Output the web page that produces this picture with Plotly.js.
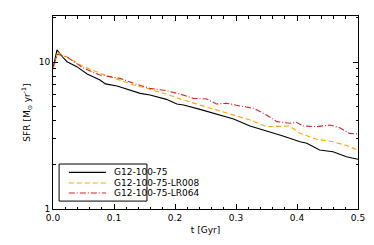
<!DOCTYPE html>
<html>
<head>
<meta charset="utf-8">
<script src="https://cdn.plot.ly/plotly-3.0.1.min.js"></script>
<style>html,body{margin:0;padding:0;background:#fff;}</style>
</head>
<body>
<div id="sfr" style="width:374px;height:245px;"></div>
<script>
// SFR curves
var tBase = [0.0, 0.0065, 0.015, 0.023, 0.039, 0.056, 0.077, 0.086, 0.105, 0.132, 0.143, 0.159, 0.186, 0.203, 0.214, 0.241, 0.268, 0.296, 0.323, 0.350, 0.377, 0.405, 0.416, 0.437, 0.459, 0.481, 0.5];
var sfrBase = [9.0, 12.1, 10.9, 10.05, 9.3, 8.3, 7.55, 7.1, 6.87, 6.38, 6.12, 5.97, 5.57, 5.18, 5.1, 4.76, 4.41, 4.1, 3.67, 3.41, 3.14, 2.87, 2.8, 2.52, 2.45, 2.27, 2.18];

var tLR008 = [0.001, 0.0076, 0.023, 0.05, 0.077, 0.105, 0.132, 0.159, 0.186, 0.214, 0.241, 0.268, 0.296, 0.323, 0.350, 0.377, 0.388, 0.405, 0.432, 0.459, 0.481, 0.5];
var sfrLR008 = [9.1, 11.6, 10.8, 9.3, 8.4, 7.6, 6.98, 6.52, 6.05, 5.51, 5.1, 4.76, 4.36, 4.03, 3.63, 3.63, 3.67, 3.27, 2.98, 2.87, 2.70, 2.52];

var tLR064 = [0.001, 0.0076, 0.023, 0.05, 0.077, 0.099, 0.110, 0.132, 0.159, 0.186, 0.208, 0.230, 0.252, 0.268, 0.285, 0.307, 0.329, 0.350, 0.367, 0.388, 0.399, 0.410, 0.432, 0.454, 0.470, 0.486, 0.5];
var sfrLR064 = [9.5, 11.3, 10.8, 9.1, 8.15, 7.87, 7.74, 7.16, 6.62, 6.38, 6.06, 5.66, 5.6, 5.18, 5.24, 5.02, 4.84, 4.36, 3.93, 3.83, 3.89, 3.67, 3.63, 3.73, 3.57, 3.27, 3.24];

var seriesNames = ['G12-100-75', 'G12-100-75-LR008', 'G12-100-75-LR064'];
var seriesColors = ['#000000', '#ffa500', '#cc2b2b'];
var seriesDash = ['solid', '5px,3px', '6px,2px,1px,2px'];

var fnt = {family: 'DejaVu Sans', size: 9, color: '#000'};

var data = [
  {x: tBase, y: sfrBase, name: seriesNames[0]},
  {x: tLR008, y: sfrLR008, name: seriesNames[1]},
  {x: tLR064, y: sfrLR064, name: seriesNames[2]}
].map(function (tr, i) {
  tr.type = 'scatter';
  tr.mode = 'lines';
  tr.line = {color: seriesColors[i], width: 1.1, dash: seriesDash[i]};
  return tr;
});

// compact boxed legend (plotly's own legend rows are too tall here)
var shapes = [{type: 'rect', xref: 'paper', yref: 'paper', x0: 0.02, x1: 0.308, y0: 0.041, y1: 0.233,
               line: {color: '#000', width: 1}, fillcolor: '#fff', layer: 'above'}];
var annotations = [];
var rowY = [0.19, 0.135, 0.083];
seriesNames.forEach(function (nm, i) {
  shapes.push({type: 'line', xref: 'paper', yref: 'paper', x0: 0.052, x1: 0.174, y0: rowY[i], y1: rowY[i],
               line: {color: seriesColors[i], width: 1.1, dash: seriesDash[i]}, layer: 'above'});
  annotations.push({xref: 'paper', yref: 'paper', x: 0.195, y: rowY[i], xanchor: 'left', yanchor: 'middle',
                    text: nm, showarrow: false, font: fnt});
});

var layout = {
  width: 374, height: 245,
  margin: {l: 53, r: 16, t: 16, b: 36},
  paper_bgcolor: '#fff', plot_bgcolor: '#fff',
  font: fnt,
  showlegend: false,
  shapes: shapes,
  annotations: annotations,
  xaxis: {
    range: [0, 0.5], tick0: 0, dtick: 0.1, tickformat: '.1f',
    ticks: 'inside', ticklen: 5, tickcolor: '#000', mirror: 'allticks',
    minor: {dtick: 0.02, ticks: 'inside', ticklen: 2.5, tickcolor: '#000'},
    showline: true, linecolor: '#000', linewidth: 1, showgrid: false, zeroline: false,
    title: {text: 't [Gyr]', font: fnt, standoff: 4}
  },
  yaxis: {
    type: 'log', range: [0, 1.313], tickvals: [1, 10], ticktext: ['1', '10'],
    ticks: 'inside', ticklen: 5, tickcolor: '#000', mirror: 'allticks',
    minor: {tickvals: [2, 3, 4, 5, 6, 7, 8, 9, 20], ticks: 'inside', ticklen: 2.5, tickcolor: '#000'},
    showline: true, linecolor: '#000', linewidth: 1, showgrid: false, zeroline: false,
    title: {text: 'SFR [M<sub>⊙</sub> yr<sup>-1</sup>]', font: fnt, standoff: 6}
  }
};

Plotly.newPlot('sfr', data, layout, {staticPlot: true, displayModeBar: false});
</script>
</body>
</html>
